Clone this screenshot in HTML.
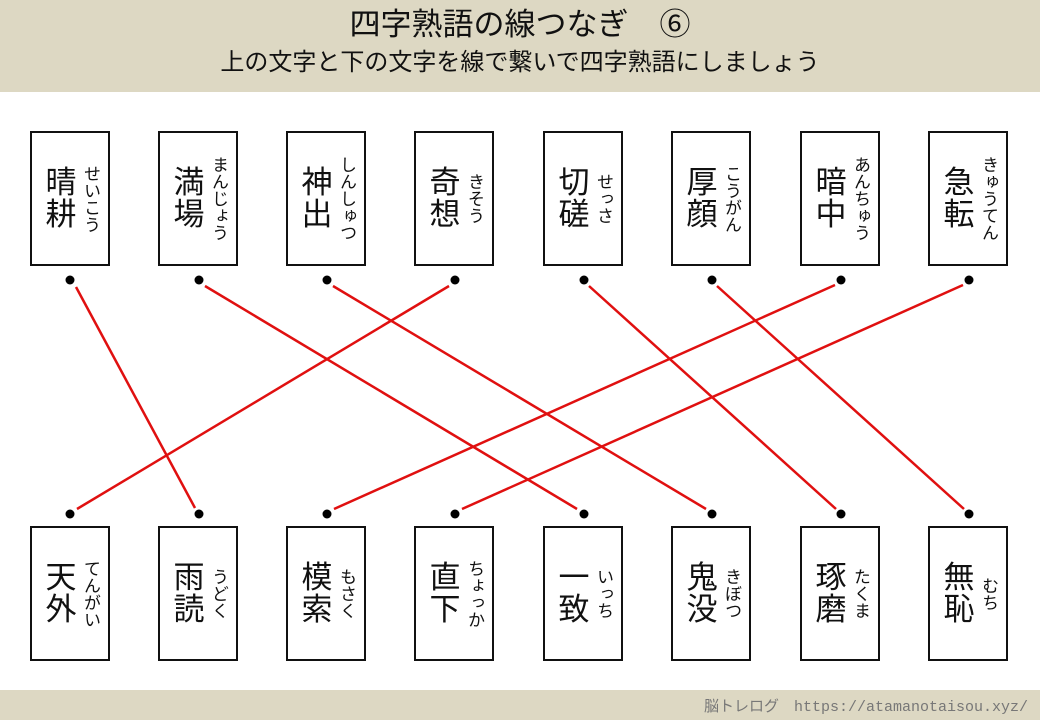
<!DOCTYPE html>
<html><head><meta charset="utf-8"><style>
body{margin:0;width:1040px;height:720px;background:#fff;position:relative;overflow:hidden;font-family:"Liberation Sans","Noto Sans CJK JP",sans-serif;}
.hd{position:absolute;left:0;top:0;width:1040px;height:92px;background:#ddd8c3;}
.t1{position:absolute;top:6px;width:1040px;text-align:center;font-size:31px;line-height:38px;color:#111;}
.t2{position:absolute;top:47px;width:1040px;text-align:center;font-size:24px;line-height:32px;color:#111;}
.ft{position:absolute;left:0;top:690px;width:1040px;height:30px;background:#ddd8c3;}
.ft span{position:absolute;right:12px;top:5px;font-size:15px;color:#777;font-family:"Liberation Mono","Noto Sans CJK JP",monospace;}
.c{position:absolute;width:76px;height:131px;border:2px solid #111;background:#fff;}
.k{position:absolute;left:12px;top:0;height:131px;width:34px;display:flex;flex-direction:column;justify-content:center;font-size:31px;line-height:32px;text-align:center;color:#111;}
.f{position:absolute;left:47px;top:0;height:131px;width:22px;display:flex;align-items:center;justify-content:center;}
.f span{writing-mode:vertical-rl;font-size:17px;line-height:22px;color:#111;}
</style></head><body>
<div class="hd"><div class="t1">四字熟語の線つなぎ　⑥</div><div class="t2">上の文字と下の文字を線で繋いで四字熟語にしましょう</div></div>
<svg width="1040" height="720" style="position:absolute;left:0;top:0">
<g stroke="#e01010" stroke-width="2.5">
<line x1="76" y1="287" x2="195" y2="508"/>
<line x1="205" y1="286" x2="577" y2="509"/>
<line x1="333" y1="286" x2="706" y2="509"/>
<line x1="449" y1="286" x2="77" y2="509"/>
<line x1="589" y1="286" x2="836" y2="509"/>
<line x1="717" y1="286" x2="964" y2="509"/>
<line x1="835" y1="285" x2="334" y2="509"/>
<line x1="963" y1="285" x2="462" y2="509"/>
</g>
<g fill="#000">
<circle cx="70" cy="280" r="4.5"/><circle cx="199" cy="280" r="4.5"/><circle cx="327" cy="280" r="4.5"/><circle cx="455" cy="280" r="4.5"/><circle cx="584" cy="280" r="4.5"/><circle cx="712" cy="280" r="4.5"/><circle cx="841" cy="280" r="4.5"/><circle cx="969" cy="280" r="4.5"/>
<circle cx="70" cy="514" r="4.5"/><circle cx="199" cy="514" r="4.5"/><circle cx="327" cy="514" r="4.5"/><circle cx="455" cy="514" r="4.5"/><circle cx="584" cy="514" r="4.5"/><circle cx="712" cy="514" r="4.5"/><circle cx="841" cy="514" r="4.5"/><circle cx="969" cy="514" r="4.5"/>
</g></svg>
<div class="c" style="left:30px;top:131px"><div class="k">晴<br>耕</div><div class="f"><span>せいこう</span></div></div>
<div class="c" style="left:158px;top:131px"><div class="k">満<br>場</div><div class="f"><span>まんじょう</span></div></div>
<div class="c" style="left:286px;top:131px"><div class="k">神<br>出</div><div class="f"><span>しんしゅつ</span></div></div>
<div class="c" style="left:414px;top:131px"><div class="k">奇<br>想</div><div class="f"><span>きそう</span></div></div>
<div class="c" style="left:543px;top:131px"><div class="k">切<br>磋</div><div class="f"><span>せっさ</span></div></div>
<div class="c" style="left:671px;top:131px"><div class="k">厚<br>顔</div><div class="f"><span>こうがん</span></div></div>
<div class="c" style="left:800px;top:131px"><div class="k">暗<br>中</div><div class="f"><span>あんちゅう</span></div></div>
<div class="c" style="left:928px;top:131px"><div class="k">急<br>転</div><div class="f"><span>きゅうてん</span></div></div>
<div class="c" style="left:30px;top:526px"><div class="k">天<br>外</div><div class="f"><span>てんがい</span></div></div>
<div class="c" style="left:158px;top:526px"><div class="k">雨<br>読</div><div class="f"><span>うどく</span></div></div>
<div class="c" style="left:286px;top:526px"><div class="k">模<br>索</div><div class="f"><span>もさく</span></div></div>
<div class="c" style="left:414px;top:526px"><div class="k">直<br>下</div><div class="f"><span>ちょっか</span></div></div>
<div class="c" style="left:543px;top:526px"><div class="k">一<br>致</div><div class="f"><span>いっち</span></div></div>
<div class="c" style="left:671px;top:526px"><div class="k">鬼<br>没</div><div class="f"><span>きぼつ</span></div></div>
<div class="c" style="left:800px;top:526px"><div class="k">琢<br>磨</div><div class="f"><span>たくま</span></div></div>
<div class="c" style="left:928px;top:526px"><div class="k">無<br>恥</div><div class="f"><span>むち</span></div></div>
<div class="ft"><span>脳トレログ　https://atamanotaisou.xyz/</span></div>
</body></html>
